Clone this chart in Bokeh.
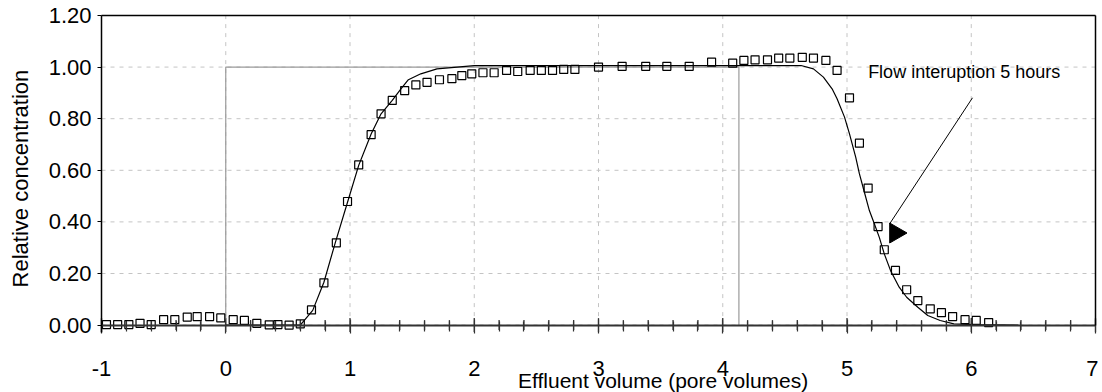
import numpy as np
from bokeh.plotting import figure
from bokeh.models import FixedTicker, NumeralTickFormatter, Label, Range1d, LinearAxis
from bokeh.embed import file_html
from bokeh.resources import INLINE

# ---- data ----
pulse_x = [0, 0, 4.13, 4.13]
pulse_y = [0, 1.0, 1.0, 0]

model_x = [0, 0.60, 0.70, 0.79, 0.88, 0.98, 1.07, 1.17, 1.25, 1.34, 1.41, 1.47, 1.57, 1.70, 2.00,
           4.63, 4.73, 4.81, 4.88, 4.92, 4.98, 5.02, 5.07, 5.10, 5.14, 5.18, 5.22, 5.26, 5.30, 5.35,
           5.42, 5.48, 5.57, 5.65, 5.75, 5.86, 6.02, 6.38]
model_y = [0, 0, 0.057, 0.166, 0.317, 0.476, 0.619, 0.741, 0.819, 0.871, 0.916, 0.951, 0.974, 0.993, 1.006,
           1.006, 0.993, 0.961, 0.916, 0.877, 0.806, 0.741, 0.651, 0.586, 0.515, 0.444, 0.393, 0.34, 0.276, 0.212,
           0.147, 0.108, 0.069, 0.037, 0.018, 0.005, 0.002, 0]

obs_x = [-0.96, -0.87, -0.78, -0.69, -0.60, -0.50, -0.41, -0.31, -0.23, -0.13, -0.04, 0.06, 0.15, 0.25,
         0.35, 0.42, 0.51, 0.60, 0.69, 0.79, 0.89, 0.98, 1.07, 1.17, 1.25, 1.34, 1.44, 1.53, 1.62, 1.72,
         1.82, 1.90, 1.98, 2.07, 2.16, 2.26, 2.35, 2.45, 2.54, 2.63, 2.72, 2.81, 3.00, 3.19, 3.38, 3.55,
         3.73, 3.91, 4.08, 4.17, 4.26, 4.36, 4.45, 4.54, 4.64, 4.73, 4.83, 4.92, 5.02, 5.10, 5.17, 5.25,
         5.30, 5.39, 5.48, 5.57, 5.67, 5.76, 5.85, 5.95, 6.04, 6.14]
obs_y = [0.002, 0.002, 0.002, 0.007, 0.002, 0.021, 0.021, 0.031, 0.033, 0.033, 0.028, 0.021, 0.018, 0.007,
         0.001, 0.002, 0.0, 0.005, 0.059, 0.164, 0.319, 0.479, 0.621, 0.738, 0.819, 0.871, 0.909, 0.931,
         0.941, 0.951, 0.955, 0.967, 0.974, 0.978, 0.978, 0.987, 0.983, 0.987, 0.987, 0.987, 0.991, 0.991,
         1.0, 1.003, 1.003, 1.003, 1.003, 1.019, 1.015, 1.026, 1.028, 1.028, 1.035, 1.035, 1.038, 1.035,
         1.026, 0.987, 0.881, 0.705, 0.531, 0.382, 0.292, 0.212, 0.137, 0.095, 0.063, 0.048, 0.033, 0.021,
         0.018, 0.010]

x_ticks = [-1, 0, 1, 2, 3, 4, 5, 6, 7]
x_tick_labels = ["-1", "0", "1", "2", "3", "4", "5", "6", "7"]
y_ticks = [0.0, 0.2, 0.4, 0.6, 0.8, 1.0, 1.2]
x_minor = [round(v, 1) for v in np.arange(-1, 7.001, 0.2) if abs(v - round(v)) > 1e-6]

annotation_text = "Flow interuption 5 hours"
annot_x, annot_y = 5.17, 0.982
arrow_start = (6.01, 0.881)
arrow_end = (5.344, 0.393)
arrow_head = (5.39, 0.357)

x_title = "Effluent volume (pore volumes)"
x_title_pos = (3.52, -0.2147)
y_title = "Relative concentration"
y_title_pos = (-1.652, 0.568)

FONT = "Liberation Sans"
X_MIN, X_MAX = -1, 7
Y_MIN, Y_MAX = 0.0, 1.2
# the data frame covers the whole canvas; axes sit at fixed positions inside it
VIEW_X = (-1.8129, 7.0241)
VIEW_Y = (-0.2612, 1.2581)

p = figure(width=1098, height=392, output_backend="svg", toolbar_location=None,
           x_range=Range1d(*VIEW_X), y_range=Range1d(*VIEW_Y),
           min_border_left=0, min_border_right=0, min_border_top=0, min_border_bottom=0)
p.background_fill_color = "white"
p.border_fill_color = "white"
p.outline_line_color = None
p.xgrid.visible = False
p.ygrid.visible = False

# grid lines limited to the data area
p.segment(x0=x_ticks, y0=[Y_MIN] * len(x_ticks), x1=x_ticks, y1=[Y_MAX] * len(x_ticks),
          line_color="#c4c4c4", line_dash="4 5", line_width=1)
p.segment(x0=[X_MIN] * len(y_ticks), y0=y_ticks, x1=[X_MAX] * len(y_ticks), y1=y_ticks,
          line_color="#c4c4c4", line_dash="4 5", line_width=1)

# x axis fixed at y = 0
xa = p.xaxis[0]
xa.fixed_location = 0
xa.bounds = (X_MIN, X_MAX)
xa.ticker = FixedTicker(ticks=x_ticks, minor_ticks=x_minor)
xa.major_label_overrides = {t: s for t, s in zip(x_ticks, x_tick_labels)}
xa.axis_line_color = "#333333"
xa.axis_line_width = 2
xa.major_tick_line_color = "#333333"
xa.minor_tick_line_color = "#333333"
xa.major_tick_line_width = 1.2
xa.minor_tick_line_width = 1.2
xa.major_tick_in = 6
xa.major_tick_out = 8
xa.minor_tick_in = 4
xa.minor_tick_out = 6
xa.major_label_text_font = FONT
xa.major_label_text_font_size = "22px"
xa.major_label_text_color = "black"
xa.major_label_standoff = 28

# tick marks crossing the x axis (drawn as vertical dash markers)
p.scatter(x_ticks, [Y_MIN] * len(x_ticks), marker="dash", size=14, angle=np.pi / 2,
          line_color="#333333", line_width=1.3)
p.scatter(x_minor, [Y_MIN] * len(x_minor), marker="dash", size=10, angle=np.pi / 2,
          line_color="#333333", line_width=1.3)

# y axis fixed at x = -1
ya = p.yaxis[0]
ya.fixed_location = X_MIN
ya.bounds = (-0.028, Y_MAX)
ya.ticker = FixedTicker(ticks=y_ticks)
ya.formatter = NumeralTickFormatter(format="0.00")
ya.axis_line_color = "black"
ya.axis_line_width = 1.5
ya.major_tick_line_color = "black"
ya.major_tick_in = 0
ya.major_tick_out = 4
ya.minor_tick_line_color = None
ya.major_label_text_font = FONT
ya.major_label_text_font_size = "22px"
ya.major_label_text_color = "black"
ya.major_label_standoff = 6

# top and right frame borders as bare fixed axes
top = LinearAxis(fixed_location=Y_MAX, bounds=(X_MIN, X_MAX), ticker=FixedTicker(ticks=[]),
                 axis_line_color="black", axis_line_width=1.5,
                 major_tick_line_color=None, minor_tick_line_color=None)
right = LinearAxis(fixed_location=X_MAX, bounds=(Y_MIN, Y_MAX), ticker=FixedTicker(ticks=[]),
                   axis_line_color="black", axis_line_width=1.5,
                   major_tick_line_color=None, minor_tick_line_color=None)
p.add_layout(top, "above")
p.add_layout(right, "right")

# series
p.line(pulse_x, pulse_y, line_color="#9a9a9a", line_width=1.2)
p.line(model_x, model_y, line_color="black", line_width=1.2)
p.scatter(obs_x, obs_y, marker="square", size=8, line_color="black", line_width=1.2,
          fill_alpha=0)

# annotation
p.segment(x0=[arrow_start[0]], y0=[arrow_start[1]], x1=[arrow_end[0]], y1=[arrow_end[1]],
          line_color="black", line_width=1)
p.scatter([arrow_head[0]], [arrow_head[1]], marker="triangle", size=20, angle=-np.pi / 2,
          color="black")
p.add_layout(Label(x=annot_x, y=annot_y, text=annotation_text, text_font=FONT,
                   text_font_size="18px", text_color="black", text_baseline="alphabetic"))

# axis titles
p.add_layout(Label(x=x_title_pos[0], y=x_title_pos[1], text=x_title, text_font=FONT,
                   text_font_size="21px", text_color="black", text_align="center",
                   text_baseline="alphabetic"))
p.add_layout(Label(x=y_title_pos[0], y=y_title_pos[1], text=y_title, text_font=FONT,
                   text_font_size="22px", text_color="black", text_align="center",
                   text_baseline="middle", angle=np.pi / 2))

open("out.html", "w").write(file_html(p, INLINE))
